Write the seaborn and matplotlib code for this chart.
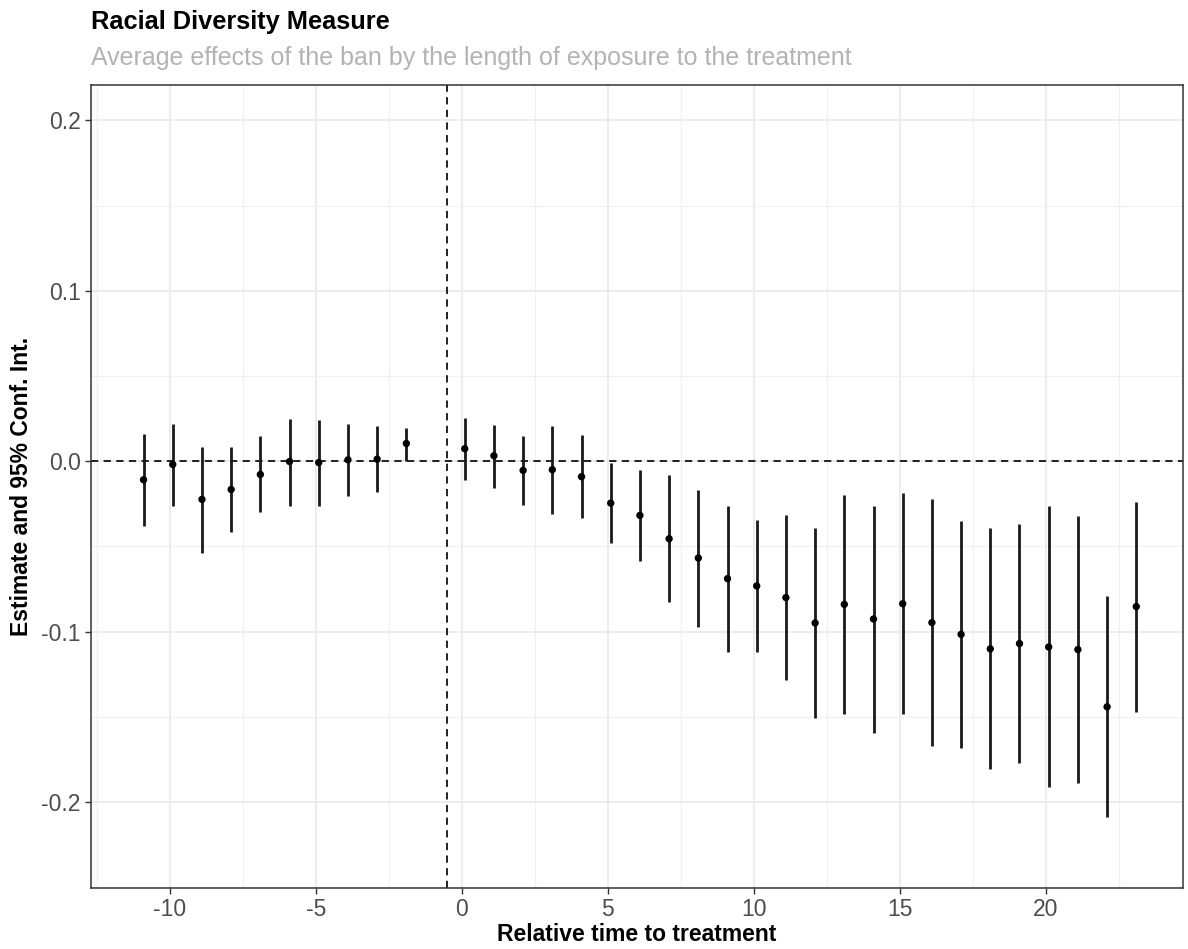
import matplotlib
matplotlib.use("Agg")
import matplotlib.pyplot as plt
from matplotlib.ticker import MultipleLocator, FixedLocator
import seaborn as sns
import pandas as pd

# ---- data ----
rel_time = [-11, -10, -9, -8, -7, -6, -5, -4, -3, -2,
            0, 1, 2, 3, 4, 5, 6, 7, 8, 9, 10, 11,
            12, 13, 14, 15, 16, 17, 18, 19, 20, 21, 22, 23]
estimate = [-0.0109, -0.0019, -0.0224, -0.0166, -0.0078, -0.0002, -0.0008, 0.0008, 0.0012, 0.0104,
            0.0073, 0.0032, -0.0054, -0.0050, -0.0091, -0.0246, -0.0318, -0.0455, -0.0568, -0.0689,
            -0.0732, -0.0800,
            -0.0949, -0.0840, -0.0926, -0.0836, -0.0947, -0.1016, -0.1101, -0.1070, -0.1090,
            -0.1105, -0.1441, -0.0853]
ci_high = [0.0160, 0.0219, 0.0086, 0.0086, 0.0145, 0.0250, 0.0244, 0.0217, 0.0209, 0.0196,
           0.0252, 0.0215, 0.0145, 0.0205, 0.0155, -0.0012, -0.0049, -0.0082, -0.0168, -0.0261,
           -0.0347, -0.0316,
           -0.0390, -0.0197, -0.0261, -0.0185, -0.0220, -0.0353, -0.0392, -0.0367, -0.0265,
           -0.0324, -0.0791, -0.0238]
ci_low = [-0.0379, -0.0264, -0.0537, -0.0418, -0.0301, -0.0260, -0.0262, -0.0203, -0.0182, 0.0004,
          -0.0109, -0.0156, -0.0258, -0.0308, -0.0334, -0.0480, -0.0588, -0.0828, -0.0973, -0.1119,
          -0.1119, -0.1281,
          -0.1508, -0.1486, -0.1592, -0.1486, -0.1672, -0.1680, -0.1808, -0.1773, -0.1914,
          -0.1887, -0.2089, -0.1472]
x_ticks = [-10, -5, 0, 5, 10, 15, 20]
y_ticks = [-0.2, -0.1, 0.0, 0.1, 0.2]
y_tick_labels = ["-0.2", "-0.1", "0.0", "0.1", "0.2"]

title = "Racial Diversity Measure"
subtitle = "Average effects of the ban by the length of exposure to the treatment"
x_label = "Relative time to treatment"
y_label = "Estimate and 95% Conf. Int."

df = pd.DataFrame({"t": rel_time, "est": estimate, "lo": ci_low, "hi": ci_high})
df["x"] = df["t"] + 0.1

sns.set_theme(style="white")
plt.rcParams["font.family"] = ["Liberation Sans", "DejaVu Sans"]
plt.rcParams["axes.unicode_minus"] = False

W, H = 1188, 949
fig = plt.figure(figsize=(W / 100, H / 100), dpi=100)
ax = fig.add_axes([91 / W, 1 - 888 / H, (1183 - 91) / W, (888 - 85) / H])

ax.set_xlim(-12.7, 24.7)
ax.set_ylim(-0.2504, 0.2207)

# grid (theme_bw like)
ax.xaxis.set_major_locator(FixedLocator(x_ticks))
ax.yaxis.set_major_locator(FixedLocator(y_ticks))
ax.xaxis.set_minor_locator(MultipleLocator(2.5))
ax.yaxis.set_minor_locator(MultipleLocator(0.05))
ax.grid(which="major", color="#ebebeb", lw=1.3, zorder=0)
ax.grid(which="minor", color="#f0f0f0", lw=0.8, zorder=0)
ax.set_axisbelow(True)

ax.axhline(0, color="#111111", ls=(0, (4, 3)), lw=1.3, zorder=2)
ax.axvline(-0.5, color="#111111", ls=(0, (4, 3)), lw=1.3, zorder=2)

ax.vlines(df["x"], df["lo"], df["hi"], color="#1a1a1a", lw=2.0, zorder=3)
sns.scatterplot(data=df, x="x", y="est", ax=ax, color="black", s=28,
                edgecolor="none", zorder=4, legend=False)

ax.set_yticklabels(y_tick_labels)
ax.tick_params(axis="both", which="major", length=4.5, width=1.0, color="#333333",
               labelsize=16.5, labelcolor="#4d4d4d", pad=3, bottom=True, left=True)
ax.tick_params(axis="both", which="minor", length=0)

for s in ax.spines.values():
    s.set_color("#333333")
    s.set_linewidth(1.1)

ax.set_xlabel(x_label, fontsize=16.5, fontweight="bold", color="black", labelpad=1)
ax.set_ylabel(y_label, fontsize=16.5, fontweight="bold", color="black", labelpad=6)

fig.text(91 / W, 1 - 29.3 / H, title, fontsize=18.3, fontweight="bold", color="black",
         ha="left", va="baseline")
fig.text(91 / W, 1 - 65 / H, subtitle, fontsize=18, color="#b3b3b3",
         ha="left", va="baseline")

fig.savefig("out.png", dpi=100)
